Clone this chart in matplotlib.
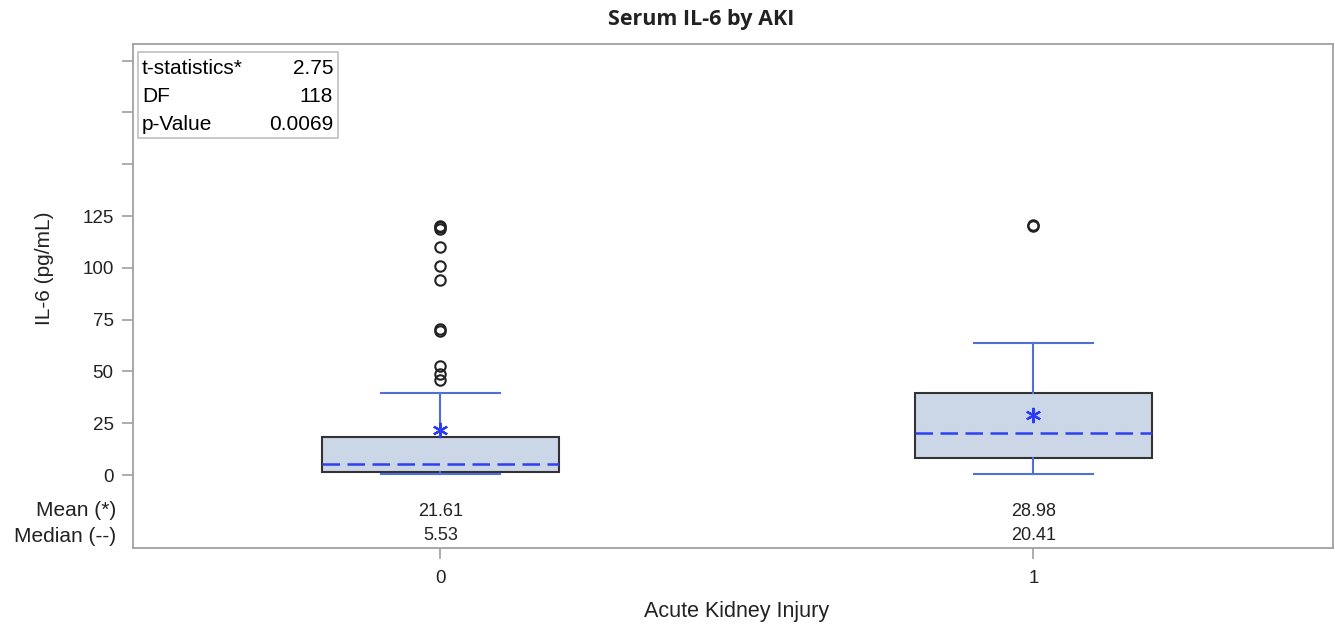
import matplotlib.pyplot as plt
from matplotlib.patches import Rectangle

# box plot summary
groups = ["0", "1"]
q1 = [1.4, 8.2]
medians = [5.53, 20.41]
q3 = [18.3, 39.6]
whisk_lo = [0.5, 0.5]
whisk_hi = [39.6, 63.7]
means = [21.61, 28.98]
outliers = [
    [120, 119.5, 118.5, 110, 101, 94, 70.5, 69.5, 52.5, 49, 46],
    [120.5, 120],
]

stat_names = ["t-statistics*", "DF", "p-Value"]
stat_values = ["2.75", "118", "0.0069"]

plt.rcParams['font.family'] = ['Liberation Sans', 'DejaVu Sans']

W, H = 1335, 628
fig = plt.figure(figsize=(W / 100, H / 100), dpi=100)
ax = fig.add_axes([133 / W, 1 - 548 / H, 1200 / W, 504 / H])

stats = []
for i, g in enumerate(groups):
    stats.append(dict(label=g, q1=q1[i], med=medians[i], q3=q3[i],
                      whislo=whisk_lo[i], whishi=whisk_hi[i],
                      mean=means[i], fliers=outliers[i]))

blue = '#4f71d6'
ax.bxp(stats, positions=range(len(groups)), widths=0.4, capwidths=0.2,
       patch_artist=True, showmeans=True,
       boxprops=dict(facecolor='#cbd6e6', edgecolor='#333333', linewidth=1.5),
       whiskerprops=dict(color=blue, linewidth=1.5),
       capprops=dict(color=blue, linewidth=1.5),
       medianprops=dict(color='#3040f0', linewidth=1.8, linestyle=(0, (7, 3))),
       meanprops=dict(marker=(6, 2, 0), markersize=11, markeredgecolor='#2a3cf5',
                      markeredgewidth=1.6, linestyle='none'),
       flierprops=dict(marker='o', markersize=7.5, markerfacecolor='none',
                       markeredgecolor='#222222', markeredgewidth=1.5))

ax.set_xlim(-0.518, 1.505)
ax.set_ylim(-35.2, 208)
yt = [0, 25, 50, 75, 100, 125, 150, 175, 200]
ax.set_yticks(yt)
ax.set_yticklabels([str(v) if v <= 125 else '' for v in yt])
ax.set_xticks(range(len(groups)))
ax.set_xticklabels(groups)
ax.tick_params(axis='both', colors='#a0a0a0', labelcolor='#222222',
               labelsize=13.5, length=8, width=1.2)
ax.tick_params(axis='x', pad=8)
ax.tick_params(axis='y', pad=6)
for s in ax.spines.values():
    s.set_color('#a0a0a0')
    s.set_linewidth(1.3)

# mean / median rows inside the plot
for i in range(len(groups)):
    ax.text(i, -17.4, f"{means[i]:.2f}", ha='center', va='center', fontsize=13, color='#222222')
    ax.text(i, -29.2, f"{medians[i]:.2f}", ha='center', va='center', fontsize=13, color='#222222')
fig.text(116 / W, 1 - 511 / H, "Mean (*)", ha='right', va='center', fontsize=15, color='#222222')
fig.text(116 / W, 1 - 536 / H, "Median (--)", ha='right', va='center', fontsize=15, color='#222222')

# statistics inset
ax.add_patch(Rectangle((5 / 1200, 1 - 94 / 504), 200 / 1200, 86 / 504, transform=ax.transAxes,
                       facecolor='white', edgecolor='#c0c0c0', linewidth=1.2, zorder=5))
for j, (n, v) in enumerate(zip(stat_names, stat_values)):
    yy = (548 - (68 + 28 * j)) / 504
    ax.text(9 / 1200, yy, n, transform=ax.transAxes, ha='left', va='center', fontsize=15, zorder=6)
    ax.text(200 / 1200, yy, v, transform=ax.transAxes, ha='right', va='center', fontsize=15, zorder=6)

fig.text(701 / W, 1 - 19 / H, "Serum IL-6 by AKI", ha='center', va='center',
         fontsize=15.5, fontweight='bold', family=['Open Sans', 'DejaVu Sans'], color='#222222')
fig.text(44 / W, 1 - 268 / H, "IL-6 (pg/mL)", ha='center', va='center', rotation=90,
         fontsize=15, color='#222222')
fig.text(737 / W, 1 - 612 / H, "Acute Kidney Injury", ha='center', va='center',
         fontsize=15.5, color='#222222')

fig.savefig("out.png", dpi=100)
